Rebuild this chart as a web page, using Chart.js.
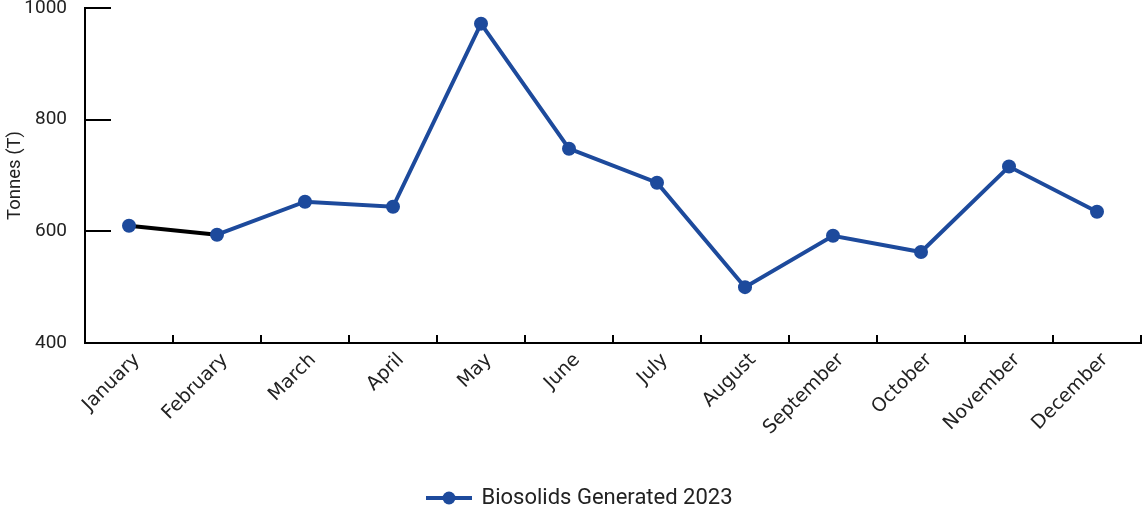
<!DOCTYPE html>
<html>
<head>
<meta charset="utf-8">
<script src="https://cdn.jsdelivr.net/npm/chart.js@4/dist/chart.umd.min.js"></script>
<style>
  html, body { margin: 0; padding: 0; background: #fff; }
  #wrap { width: 1148px; height: 512px; }
</style>
</head>
<body>
<div id="wrap"><canvas id="biosolids"></canvas></div>
<script>
const months = ["January", "February", "March", "April", "May", "June",
  "July", "August", "September", "October", "November", "December"];
const tonnes = [610, 594, 653, 644, 972, 748, 687, 500, 592, 563, 716, 635];
const seriesLabel = "Biosolids Generated 2023";
const yTitle = "Tonnes (T)";

const blue = "#1d4a9c";

// legend marker: short line with a dot in the middle
function legendMarker() {
  let c = document.createElement("canvas");
  c.width = 46;
  c.height = 16;
  let g = c.getContext("2d");
  g.strokeStyle = blue;
  g.lineWidth = 4;
  g.beginPath();
  g.moveTo(0, 8);
  g.lineTo(46, 8);
  g.stroke();
  g.fillStyle = blue;
  g.beginPath();
  g.arc(23, 8, 6.5, 0, Math.PI * 2);
  g.fill();
  return c;
}

// ticks pointing into the plot area
const innerTicks = {
  id: "innerTicks",
  afterDatasetsDraw(chart) {
    const ctx = chart.ctx;
    const area = chart.chartArea;
    const x = chart.scales.x;
    const y = chart.scales.y;
    ctx.save();
    ctx.strokeStyle = "#000";
    ctx.lineWidth = 2;
    ctx.beginPath();
    y.ticks.forEach(function (t) {
      let py = Math.round(y.getPixelForValue(t.value));
      ctx.moveTo(area.left, py);
      ctx.lineTo(area.left + 26, py);
    });
    for (let i = 1; i <= months.length; i++) {
      let px = Math.round(x.getPixelForValue(i - 0.5));
      ctx.moveTo(px, area.bottom);
      ctx.lineTo(px, area.bottom - 8);
    }
    ctx.stroke();
    ctx.restore();
  },
};

function init() {
  const ctx = document.getElementById("biosolids");
  new Chart(ctx, {
    type: "line",
    data: {
      labels: months,
      datasets: [
        {
          label: seriesLabel,
          data: tonnes,
          borderColor: blue,
          backgroundColor: blue,
          borderWidth: 4,
          pointRadius: 7,
          pointHoverRadius: 7,
          pointBackgroundColor: blue,
          pointBorderWidth: 0,
          tension: 0,
          segment: {
            borderColor: function (c) {
              return c.p0DataIndex === 0 ? "#000" : blue;
            },
          },
        },
      ],
    },
    options: {
      responsive: true,
      maintainAspectRatio: false,
      animation: false,
      layout: { padding: { top: 8, right: 3, left: 15, bottom: -7 } },
      plugins: {
        tooltip: { enabled: false },
        legend: {
          position: "bottom",
          labels: {
            usePointStyle: true,
            pointStyle: legendMarker(),
            pointStyleWidth: 43,
            color: "#222",
            padding: 0,
            font: { family: "Roboto", size: 22 },
          },
        },
      },
      scales: {
        x: {
          offset: true,
          grid: { display: false, drawTicks: false },
          border: { color: "#000", width: 2 },
          ticks: {
            minRotation: 45,
            maxRotation: 45,
            color: "#222",
            padding: 6,
            labelOffset: 8,
            font: { family: "DejaVu Sans", size: 19 },
          },
          afterFit(scale) {
            scale.height = 144;
          },
        },
        y: {
          min: 400,
          max: 1000,
          grid: { display: false, drawTicks: false },
          border: { color: "#000", width: 2 },
          ticks: {
            stepSize: 200,
            color: "#222",
            padding: 18,
            font: { family: "Roboto", size: 19 },
            callback: function (v) {
              return String(v);
            },
          },
          title: {
            display: true,
            text: yTitle,
            color: "#222",
            padding: { top: -11, bottom: 0 },
            font: { family: "Roboto", size: 18.5 },
          },
          afterFit(scale) {
            scale.width = 70;
            scale.paddingTop = 0;
            scale.paddingBottom = 0;
          },
        },
      },
    },
    plugins: [innerTicks],
  });
}

window.onload = init;
</script>
</body>
</html>
